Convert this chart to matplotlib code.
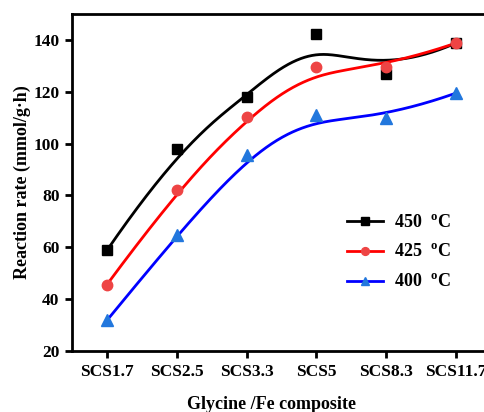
import numpy as np
import matplotlib
matplotlib.use("Agg")
import matplotlib.pyplot as plt

categories = ["SCS1.7", "SCS2.5", "SCS3.3", "SCS5", "SCS8.3", "SCS11.7"]
rate_450 = [58.8, 98.0, 118.0, 142.3, 126.9, 138.8]
rate_425 = [45.6, 82.0, 110.2, 129.6, 129.6, 138.8]
rate_400 = [31.8, 64.6, 95.6, 111.0, 110.0, 119.5]
labels = ["450 $\\;^{\\mathbf{o}}$C", "425 $\\;^{\\mathbf{o}}$C", "400 $\\;^{\\mathbf{o}}$C"]


def bspline(cx, cy, k=3, num=400):
    cx = np.asarray(cx, float)
    cy = np.asarray(cy, float)
    n = len(cx)
    knots = np.concatenate([np.zeros(k), np.linspace(0, 1, n - k + 1), np.ones(k)])
    t = np.linspace(0, 1, num)
    t[-1] -= 1e-10
    B = np.zeros((len(knots) - 1, num))
    for i in range(len(knots) - 1):
        B[i] = ((t >= knots[i]) & (t < knots[i + 1])).astype(float)
    for d in range(1, k + 1):
        Bn = np.zeros((len(knots) - 1 - d, num))
        for i in range(len(knots) - 1 - d):
            a = knots[i + d] - knots[i]
            b = knots[i + d + 1] - knots[i + 1]
            term = 0
            if a > 0:
                term = term + (t - knots[i]) / a * B[i]
            if b > 0:
                term = term + (knots[i + d + 1] - t) / b * B[i + 1]
            Bn[i] = term
        B = Bn
    return cx @ B, cy @ B


plt.rcParams['font.family'] = ['Liberation Serif', 'DejaVu Serif']
plt.rcParams['font.weight'] = 'bold'
plt.rcParams['mathtext.fontset'] = 'custom'
plt.rcParams['mathtext.rm'] = 'Liberation Serif:bold'
plt.rcParams['mathtext.bf'] = 'Liberation Serif:bold'

fig = plt.figure(figsize=(4.85, 4.12), dpi=100)
ax = fig.add_axes([72 / 485, 1 - 351 / 412, 419 / 485, 337 / 412])

x = np.arange(len(categories))
series = [rate_450, rate_425, rate_400]
line_colors = ["black", "#FF0000", "#0000FF"]
mark_colors = ["black", "#EE4444", "#2277DD"]
markers = ["s", "o", "^"]
msizes = [7, 7.5, 8.5]

for vals, lc, mc, m, ms, lab in zip(series, line_colors, mark_colors, markers, msizes, labels):
    sx, sy = bspline(x, vals)
    ax.plot(sx, sy, color=lc, lw=2, zorder=2)
    ax.plot(x, vals, linestyle='none', marker=m, ms=ms, color=mc, zorder=3)
    ax.plot([], [], color=lc, lw=2, marker=m, ms=ms * 0.75, mfc=mc, mec=mc, label=lab)

ax.set_xlim(-0.5, 5.5)
ax.set_ylim(20, 150)
ax.set_xticks(x)
ax.set_xticklabels(categories)
ax.set_yticks([20, 40, 60, 80, 100, 120, 140])
ax.tick_params(axis='both', direction='out', length=5, width=2, labelsize=12.5, pad=4)
for lab in ax.get_xticklabels() + ax.get_yticklabels():
    lab.set_fontweight('bold')
for s in ['left', 'bottom', 'top']:
    ax.spines[s].set_linewidth(2)
ax.spines['right'].set_visible(False)

ax.set_xlabel("Glycine /Fe composite", fontsize=13, fontweight='bold')
ax.set_ylabel("Reaction rate (mmol/g·h)", fontsize=13, fontweight='bold')
ax.xaxis.set_label_coords((272 - 72) / 419, -(396 - 351) / 337)
ax.yaxis.set_label_coords(-(72 - 31) / 419, 0.5)

leg = ax.legend(loc='upper left', bbox_to_anchor=((340 - 72) / 419, (351 - 207) / 337),
                frameon=False, fontsize=13, handlelength=2.0, handletextpad=0.6,
                labelspacing=0.7, borderaxespad=0)
for t in leg.get_texts():
    t.set_fontweight('bold')

fig.savefig("out.png", dpi=100)
